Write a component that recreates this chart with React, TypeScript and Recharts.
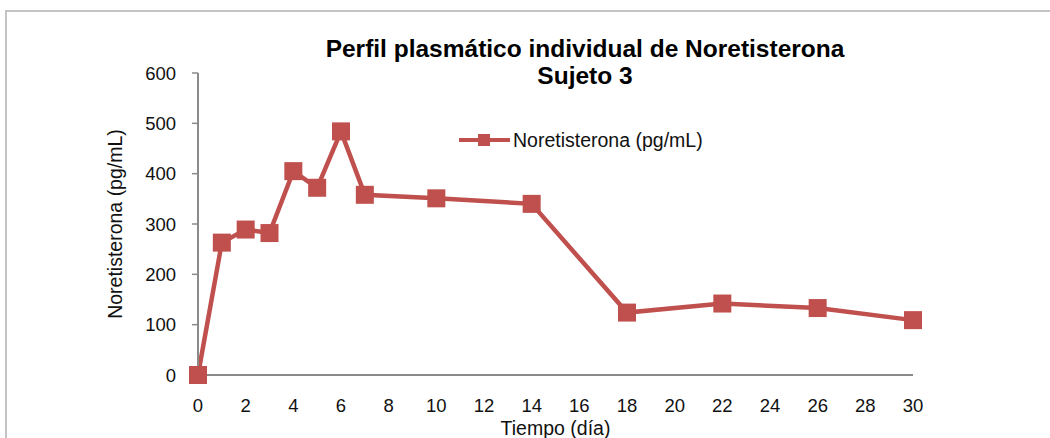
import { Label, Legend, Line, LineChart, XAxis, YAxis } from "recharts";

const dias = [0, 1, 2, 3, 4, 5, 6, 7, 10, 14, 18, 22, 26, 30];
const noretisterona = [0, 263, 289, 282, 405, 372, 484, 358, 351, 340, 124, 142, 133, 109];
const xTicks = [0, 2, 4, 6, 8, 10, 12, 14, 16, 18, 20, 22, 24, 26, 28, 30];
const yTicks = [0, 100, 200, 300, 400, 500, 600];

const serieNombre = "Noretisterona (pg/mL)";
const titulo = ["Perfil plasmático individual de Noretisterona", "Sujeto 3"];

const data = dias.map((d, i) => ({ dia: d, valor: noretisterona[i] }));

const ROJO = "#c0504d";
const EJE = "#8a8a8a";
const FONT = "'Liberation Sans', Arial, sans-serif";

const SquareDot = (props: any) => {
	const { cx, cy } = props;
	if (cx == null || cy == null) return null;
	const s = 18;
	return <rect x={cx - s / 2} y={cy - s / 2} width={s} height={s} fill={ROJO} />;
};

const LegendItem = () => (
	<svg width={260} height={30}>
		<line x1={1} y1={11} x2={52} y2={11} stroke={ROJO} strokeWidth={4} />
		<rect x={20} y={5} width={12} height={12} fill={ROJO} />
		<text x={55} y={18} fontSize={19.5} fontFamily={FONT} fill="#111">
			{serieNombre}
		</text>
	</svg>
);

const YLabel = (props: any) => {
	const { viewBox } = props;
	const cy = viewBox.y + viewBox.height / 2;
	return (
		<text
			x={122}
			y={cy}
			transform={`rotate(-90 122 ${cy})`}
			textAnchor="middle"
			fontSize={19.5}
			fontFamily={FONT}
			fill="#111"
		>
			Noretisterona (pg/mL)
		</text>
	);
};

const XLabel = (props: any) => {
	const { viewBox } = props;
	const cx = viewBox.x + viewBox.width / 2;
	return (
		<text x={cx} y={435} textAnchor="middle" fontSize={19.5} fontFamily={FONT} fill="#111">
			Tiempo (día)
		</text>
	);
};

export default function App() {
	return (
		<div
			style={{
				position: "absolute",
				left: 0,
				top: 0,
				width: 1050,
				height: 438,
				overflow: "hidden",
				background: "#fff",
				fontFamily: FONT,
			}}
		>
			<div
				style={{
					position: "absolute",
					left: 5,
					top: 10,
					width: 1100,
					height: 500,
					border: "2px solid #c4c4c4",
				}}
			/>
			<svg
				width={1050}
				height={100}
				style={{ position: "absolute", left: 0, top: 0 }}
			>
				<text x={585} y={57} textAnchor="middle" fontSize={24.5} fontWeight="bold" fontFamily={FONT} fill="#000">
					{titulo[0]}
				</text>
				<text x={585} y={84} textAnchor="middle" fontSize={24.5} fontWeight="bold" fontFamily={FONT} fill="#000">
					{titulo[1]}
				</text>
			</svg>
			<div style={{ position: "absolute", left: 0, top: 0 }}>
				<LineChart
					width={1050}
					height={438}
					data={data}
					margin={{ top: 73, right: 137, bottom: 0, left: 0 }}
				>
					<XAxis
						dataKey="dia"
						type="number"
						domain={[0, 30]}
						ticks={xTicks}
						interval={0}
						height={63}
						tickLine={false}
						tickSize={6}
						tickMargin={18}
						axisLine={{ stroke: EJE, strokeWidth: 2 }}
						tick={{ fill: "#111", fontSize: 18.5, fontFamily: FONT }}
					>
						<Label content={<XLabel />} />
					</XAxis>
					<YAxis
						type="number"
						domain={[0, 600]}
						ticks={yTicks}
						interval={0}
						width={198}
						tickSize={6}
						tickMargin={16}
						tickLine={{ stroke: EJE, strokeWidth: 1.5 }}
						axisLine={{ stroke: EJE, strokeWidth: 2 }}
						tick={{ fill: "#111", fontSize: 18.5, fontFamily: FONT }}
					>
						<Label content={<YLabel />} />
					</YAxis>
					<Legend
						layout="horizontal"
						verticalAlign="middle"
						align="center"
						content={<LegendItem />}
						wrapperStyle={{ position: "absolute", left: 458, top: 129, width: 260, height: 30 }}
					/>
					<Line
						type="linear"
						dataKey="valor"
						name={serieNombre}
						stroke={ROJO}
						strokeWidth={4.5}
						dot={<SquareDot />}
						activeDot={false}
						isAnimationActive={false}
					/>
				</LineChart>
			</div>
		</div>
	);
}
